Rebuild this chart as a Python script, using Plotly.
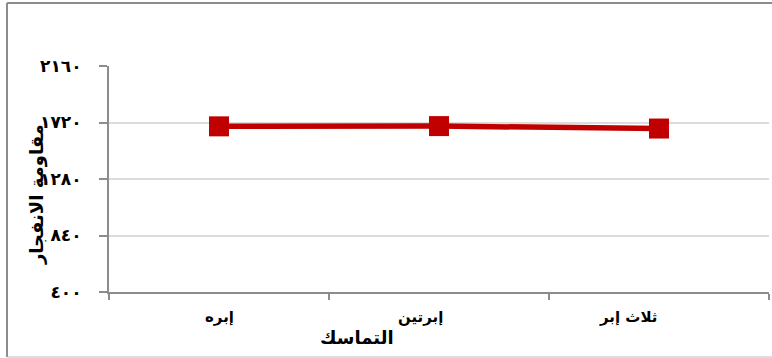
import plotly.graph_objects as go

# Data
categories = ["إبره", "إبرتين", "ثلاث إبر"]
burst_resistance = [1690, 1692, 1673]
y_tick_values = [400, 840, 1280, 1720, 2160]
y_tick_labels = ["٤٠٠", "٨٤٠", "١٢٨٠", "١٧٢٠", "٢١٦٠"]
x_title = "التماسك"
y_title = "مقاومة الانفجار"

RED = "#C00000"
AXIS_GRAY = "#8C8C8C"
GRID_GRAY = "#DCDCDC"
FONT = "DejaVu Sans"

fig = go.Figure()
fig.add_trace(go.Scatter(
    x=categories,
    y=burst_resistance,
    mode="lines+markers",
    line=dict(color=RED, width=5.5),
    marker=dict(symbol="square", size=20, color=RED),
    showlegend=False,
    hoverinfo="skip",
))

# Category labels placed under each category
label_shifts = [0, -19, -31]
for cat, dx in zip(categories, label_shifts):
    fig.add_annotation(
        x=cat, y=0, xref="x", yref="paper",
        text=f"<b>{cat}</b>", showarrow=False,
        xanchor="center", yanchor="middle",
        xshift=dx, yshift=-25,
        font=dict(family=FONT, size=15, color="#000000"),
    )

# Axis titles
fig.add_annotation(
    x=(357 - 109) / 660, y=(292 - 337) / 226, xref="paper", yref="paper",
    text=f"<b>{x_title}</b>", showarrow=False,
    xanchor="center", yanchor="middle",
    font=dict(family=FONT, size=18, color="#000000"),
)
fig.add_annotation(
    x=(37 - 109) / 660, y=(292 - 195) / 226, xref="paper", yref="paper",
    text=f"<b>{y_title}</b>", showarrow=False, textangle=-90,
    xanchor="center", yanchor="middle",
    font=dict(family=FONT, size=18, color="#000000"),
)

# Outer chart frame
left = (7 - 109) / 660
top = (292 - 3) / 226
bottom = (292 - 357) / 226
fig.add_shape(type="line", xref="paper", yref="paper",
              x0=left, x1=left, y0=bottom, y1=top,
              line=dict(color=AXIS_GRAY, width=2))
fig.add_shape(type="line", xref="paper", yref="paper",
              x0=left, x1=1.2, y0=top, y1=top,
              line=dict(color=AXIS_GRAY, width=2))
fig.add_shape(type="line", xref="paper", yref="paper",
              x0=left, x1=1.2, y0=bottom, y1=bottom,
              line=dict(color="#BDBDBD", width=1))

fig.update_layout(
    width=772, height=358,
    margin=dict(l=109, r=3, t=66, b=66),
    paper_bgcolor="white",
    plot_bgcolor="white",
    xaxis=dict(
        type="category",
        range=[-0.5, 2.5],
        showticklabels=False,
        showgrid=False,
        showline=True, linecolor=AXIS_GRAY, linewidth=2,
        ticks="outside", tickson="boundaries", ticklen=6,
        tickwidth=2, tickcolor=AXIS_GRAY,
        zeroline=False,
    ),
    yaxis=dict(
        range=[400, 2160],
        tickvals=y_tick_values,
        ticktext=y_tick_labels,
        tickfont=dict(family=FONT, size=17, color="#000000", weight="bold"),
        showgrid=True, gridcolor=GRID_GRAY, gridwidth=2,
        showline=True, linecolor=AXIS_GRAY, linewidth=2,
        ticks="outside", ticklen=8, tickwidth=2, tickcolor=AXIS_GRAY,
        ticklabelstandoff=14,
        zeroline=False,
    ),
)

fig.write_html("out.html")
